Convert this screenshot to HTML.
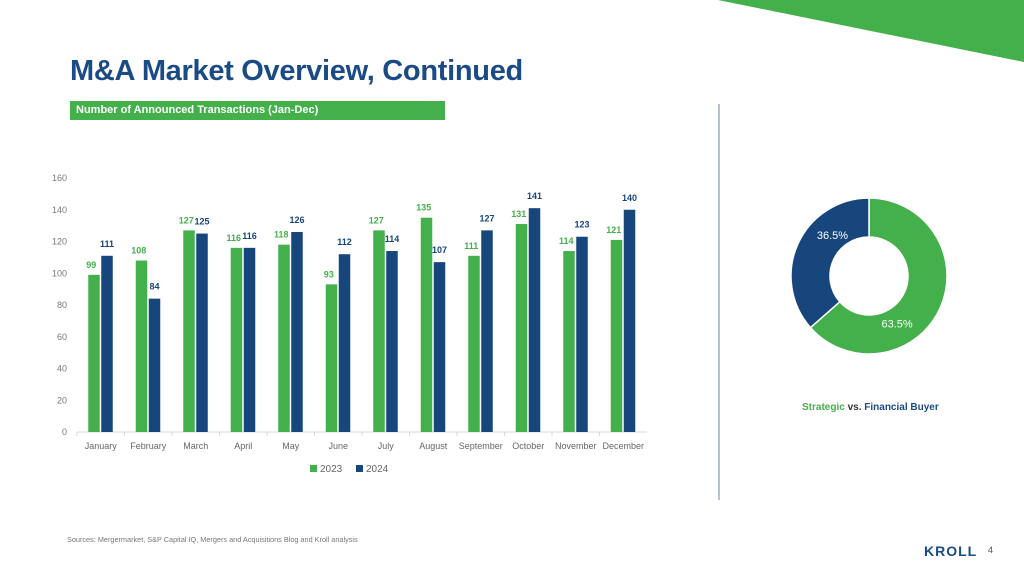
<!DOCTYPE html>
<html><head><meta charset="utf-8"><style>
body{margin:0;width:1024px;height:575px;background:#fff;position:relative;overflow:hidden;font-family:"Liberation Sans",sans-serif}
.abs{position:absolute}
</style></head><body>
<svg class="abs" style="left:0;top:0" width="1024" height="575">
<polygon points="718,0 1024,0 1024,62" fill="#44b04b"/>
<line x1="719" y1="104" x2="719" y2="500" stroke="#8a9bb0" stroke-width="1.2"/>
<rect x="70" y="101" width="375" height="19" fill="#44b04b"/>
<g id="chart"></g>
<g id="donut"></g>
</svg>
<div class="abs" style="left:70px;top:55px;font-size:29px;font-weight:bold;color:#1a4b86;letter-spacing:-0.3px">M&amp;A Market Overview, Continued</div>
<div class="abs" style="left:76px;top:104px;font-size:11px;font-weight:bold;color:#fff">Number of Announced Transactions (Jan-Dec)</div>
<div class="abs" style="left:802px;top:402px;font-size:10px;font-weight:bold;color:#1a4b86"><span style="color:#44b04b">Strategic</span> <span style="color:#333">vs.</span> Financial Buyer</div>
<div class="abs" style="left:67px;top:535px;font-size:7.3px;color:#777">Sources: Mergermarket, S&amp;P Capital IQ, Mergers and Acquisitions Blog and Kroll analysis</div>
<div class="abs" style="left:924px;top:543px;font-size:14px;font-weight:bold;color:#1a4b86;letter-spacing:1px">KROLL</div>
<div class="abs" style="left:988px;top:545px;font-size:9px;color:#555">4</div>
<script>
const categories=["January","February","March","April","May","June","July","August","September","October","November","December"];
const values2023=[99,108,127,116,118,93,127,135,111,131,114,121];
const values2024=[111,84,125,116,126,112,114,107,127,141,123,140];
const yTicks=[0,20,40,60,80,100,120,140,160];
const seriesNames=["2023","2024"];
const donutValues=[63.5,36.5];
const donutLabels=["63.5%","36.5%"];
const G="#44b04b",B="#16467b",NS="http://www.w3.org/2000/svg";
const x0=77,x1=647,y0=432,yTop=178;
const band=(x1-x0)/categories.length;
const y=v=>y0-(v/160)*(y0-yTop);
const xc=i=>x0+band*(i+0.5);
function mk(t,a,p){const e=document.createElementNS(NS,t);for(const k in a)e.setAttribute(k,a[k]);(p||document.getElementById('chart')).appendChild(e);return e;}
const ax=mk('line',{x1:x0,y1:y0,x2:x1,y2:y0,stroke:'#d9d9d9'});


yTicks.forEach(t=>{const e=mk('text',{x:67,y:y(t)+3,'text-anchor':'end','font-size':9,fill:'#777'});e.textContent=t;

});
categories.forEach((c,i)=>{
const e=mk('text',{x:xc(i),y:449,'text-anchor':'middle','font-size':9,fill:'#666'});e.textContent=c;


const tk=mk('line',{x1:x0+band*i,y1:y0,x2:x0+band*i,y2:y0+4,stroke:'#d9d9d9'});


[[values2023[i],G,-12.5],[values2024[i],B,0.5]].forEach(([v,col,off],k)=>{
const r=mk('rect',{x:xc(i)+off,y:y(v),width:11.5,height:y0-y(v),fill:col});


const l=mk('text',{x:xc(i)+off+(k==0?3:5.75),y:y(v)-(k==0?7:9),'text-anchor':'middle','font-size':9,'font-weight':'bold',fill:col});l.textContent=v;

});});
seriesNames.forEach((s,k)=>{const lx=310+k*46;
const r=mk('rect',{x:lx,y:465,width:7,height:7,fill:k?B:G});


const t=mk('text',{x:lx+10,y:472,'font-size':10,fill:'#666'});t.textContent=s;

});
const dg=document.getElementById('donut');const cx=869,cy=276,R=78,r0=39;
const tot=donutValues.reduce((a,b)=>a+b,0);let a=-Math.PI/2;
donutValues.forEach((v,i)=>{const a2=a+v/tot*2*Math.PI,lg=(a2-a)>Math.PI?1:0;
const P=(rr,an)=>[cx+rr*Math.cos(an),cy+rr*Math.sin(an)];
const [p1,p2,p3,p4]=[P(R,a),P(R,a2),P(r0,a2),P(r0,a)];
const p=mk('path',{d:`M${p1}A${R},${R} 0 ${lg} 1 ${p2}L${p3}A${r0},${r0} 0 ${lg} 0 ${p4}Z`,fill:i?B:G,stroke:'#fff','stroke-width':1.5},dg);


const m=(a+a2)/2,lp=P(55,m+(i?0.42:0.61));
const t=mk('text',{x:lp[0],y:lp[1]+4,'text-anchor':'middle','font-size':11,fill:'#fff'},dg);t.textContent=donutLabels[i];


a=a2;});
</script>
</body></html>
